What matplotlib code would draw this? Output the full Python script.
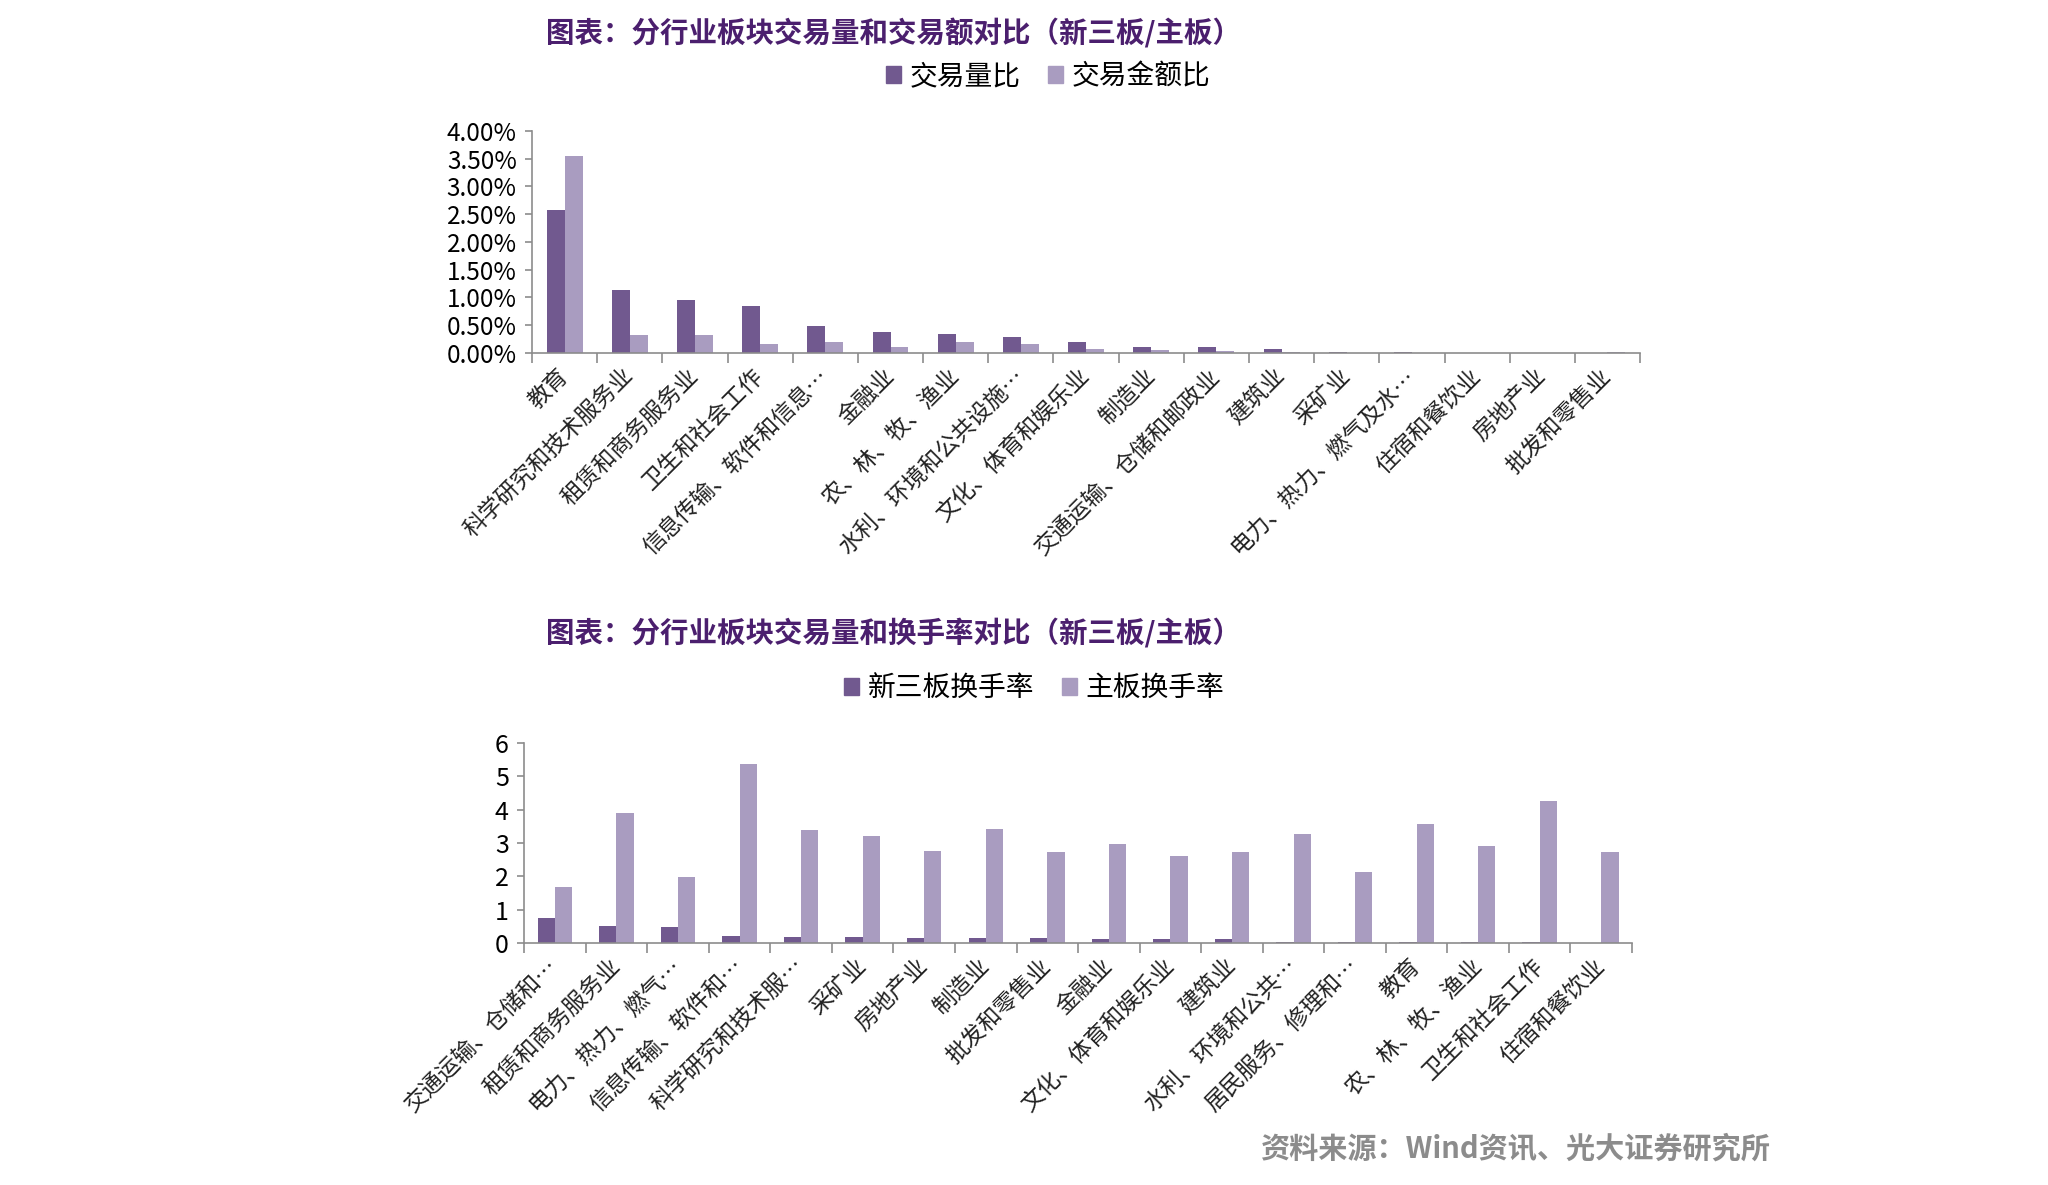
import numpy as np
import matplotlib
matplotlib.use("Agg")
import matplotlib.pyplot as plt
from matplotlib.ticker import FixedLocator, FuncFormatter
from matplotlib.patches import Patch

plt.rcParams['font.family'] = ['Noto Sans CJK SC', 'DejaVu Sans']

# top chart: volume share vs turnover share (NEEQ / main board), in %
topCats = ["教育", "科学研究和技术服务业", "租赁和商务服务业", "卫生和社会工作",
           "信息传输、软件和信息…", "金融业", "农、林、牧、渔业", "水利、环境和公共设施…",
           "文化、体育和娱乐业", "制造业", "交通运输、仓储和邮政业", "建筑业", "采矿业",
           "电力、热力、燃气及水…", "住宿和餐饮业", "房地产业", "批发和零售业"]
volRatio = [2.57, 1.14, 0.96, 0.84, 0.48, 0.37, 0.34, 0.29, 0.20, 0.10, 0.10,
            0.07, 0.012, 0.010, 0.008, 0.004, 0.006]
amtRatio = [3.55, 0.32, 0.33, 0.17, 0.19, 0.11, 0.20, 0.17, 0.08, 0.05, 0.04,
            0.02, 0.005, 0.004, 0.003, 0.002, 0.02]

# bottom chart: turnover rate
botCats = ["交通运输、仓储和…", "租赁和商务服务业", "电力、热力、燃气…", "信息传输、软件和…",
           "科学研究和技术服…", "采矿业", "房地产业", "制造业", "批发和零售业", "金融业",
           "文化、体育和娱乐业", "建筑业", "水利、环境和公共…", "居民服务、修理和…",
           "教育", "农、林、牧、渔业", "卫生和社会工作", "住宿和餐饮业"]
neeqTurn = [0.75, 0.51, 0.49, 0.20, 0.18, 0.17, 0.16, 0.15, 0.15, 0.12, 0.12,
            0.11, 0.04, 0.04, 0.03, 0.03, 0.03, 0.01]
mainTurn = [1.67, 3.91, 1.99, 5.37, 3.40, 3.22, 2.77, 3.43, 2.73, 2.96, 2.61,
            2.74, 3.26, 2.12, 3.57, 2.92, 4.27, 2.74]

darkCol = "#71598F"
lightCol = "#A99CC0"
titleCol = "#4B1F6E"
axisCol = "#8C8C8C"


def drawBars(ax, cats, s1, s2, width):
    x = np.arange(len(cats))
    ax.bar(x - width / 2, s1, width, color=darkCol, edgecolor="none")
    ax.bar(x + width / 2, s2, width, color=lightCol, edgecolor="none")
    ax.set_xlim(-0.5, len(cats) - 0.5)
    for side in ["top", "right"]:
        ax.spines[side].set_visible(False)
    for side in ["left", "bottom"]:
        ax.spines[side].set_color(axisCol)
        ax.spines[side].set_linewidth(1.2)
    ax.set_xticks(x)
    ax.set_xticklabels(cats, rotation=45, ha="right", va="center",
                       rotation_mode="anchor", fontsize=16.5, color="#222222")
    ax.tick_params(axis="x", which="major", length=0, pad=14)
    ax.xaxis.set_minor_locator(FixedLocator(np.arange(-0.5, len(cats), 1.0)))
    ax.tick_params(axis="x", which="minor", length=7, color=axisCol, width=1.2)
    ax.tick_params(axis="y", length=5, color=axisCol, width=1.2, pad=6)


fig = plt.figure(figsize=(20.48, 11.85), dpi=100)

ax1 = fig.add_axes([0.2598, 0.7021, 0.5410, 0.1874])
drawBars(ax1, topCats, volRatio, amtRatio, 0.275)
ax1.set_ylim(0, 4.0)
ax1.set_yticks(np.arange(0, 4.01, 0.5))
ax1.yaxis.set_major_formatter(FuncFormatter(lambda v, p: "{:.2f}%".format(v)))
ax1.tick_params(axis="y", labelsize=17.5)

ax2 = fig.add_axes([0.2559, 0.2042, 0.5410, 0.1688])
drawBars(ax2, botCats, neeqTurn, mainTurn, 0.28)
ax2.set_ylim(0, 6)
ax2.set_yticks(range(0, 7))
ax2.tick_params(axis="y", labelsize=18)

# titles
fig.text(546 / 2048, 1 - 33 / 1185, "图表：分行业板块交易量和交易额对比（新三板/主板）",
         fontsize=20.5, fontweight="bold", color=titleCol, ha="left", va="center")
fig.text(546 / 2048, 1 - 633 / 1185, "图表：分行业板块交易量和换手率对比（新三板/主板）",
         fontsize=20.5, fontweight="bold", color=titleCol, ha="left", va="center")

# legends
h1 = [Patch(color=darkCol), Patch(color=lightCol)]
fig.legend(h1, ["交易量比", "交易金额比"], loc="center", bbox_to_anchor=(1048 / 2048, 1 - 76 / 1185),
           ncol=2, frameon=False, fontsize=20, handlelength=0.55, handleheight=0.55,
           handletextpad=0.3, columnspacing=1.0)
fig.legend(h1, ["新三板换手率", "主板换手率"], loc="center", bbox_to_anchor=(1034 / 2048, 1 - 688 / 1185),
           ncol=2, frameon=False, fontsize=20, handlelength=0.55, handleheight=0.55,
           handletextpad=0.3, columnspacing=1.0)

fig.text(1770 / 2048, 1 - 1149 / 1185, "资料来源：Wind资讯、光大证券研究所",
         fontsize=21, fontweight="bold", color="#8C8C8C", ha="right", va="center")

fig.savefig("out.png", dpi=100)
